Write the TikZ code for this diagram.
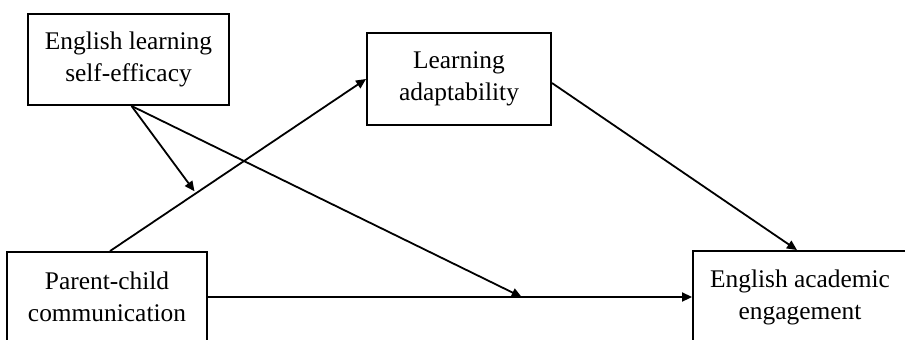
\documentclass[tikz,border=0pt]{standalone}
\usepackage{fontspec}
\setmainfont{Liberation Serif}
\usetikzlibrary{arrows.meta,calc}
\begin{document}
\begin{tikzpicture}[x=0.5pt,y=-0.5pt,
  box/.style={draw,line width=0.95pt,inner sep=0pt,align=center,
    font=\fontsize{12.7pt}{16pt}\selectfont},
  conn/.style={line width=0.9pt},
  arr/.style={conn,-{Triangle[length=5pt,width=4.5pt]}}]
\useasboundingbox (0,0) rectangle (905,339);
\node[box,minimum width=100.5pt,minimum height=45.5pt] (se) at (128.5,59.5) {English learning\\self-efficacy};
\node[box,minimum width=92pt,minimum height=46pt] (la) at (459,79) {Learning\\adaptability};
\node[box,minimum width=100pt,minimum height=45pt] (pc) at (107,297) {Parent-child\\communication};
\node[box,minimum width=107pt,minimum height=46pt] (ae) at (800,297) {English academic\\engagement};
\draw[arr] ([xshift=1.5pt]pc.north) -- (la.west);
\coordinate (m1) at ($([xshift=1.5pt]pc.north)!0.33!(la.west)$);
\coordinate (m2) at ($(pc.east)!0.648!(ae.west)$);
\draw[arr] ([xshift=1.5pt]se.south) -- ($(m1)+(0,-3)$);
\draw[arr] ([xshift=1.5pt]se.south) -- (m2);
\draw[arr] (pc.east) -- (ae.west);
\draw[arr] ([yshift=-2pt]la.east) -- ([xshift=-1.5pt]ae.north);
\end{tikzpicture}
\end{document}
